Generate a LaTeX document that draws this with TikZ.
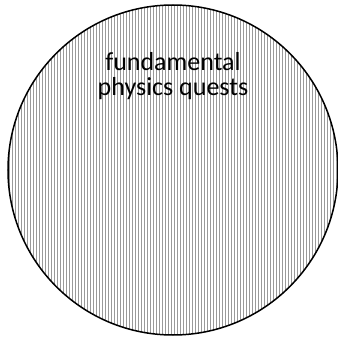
\documentclass[tikz,border=0pt]{standalone}
\usepackage{fontspec}
\setmainfont{Carlito}
\usepackage{tikz}
\usetikzlibrary{positioning, patterns}

\begin{document}
\begin{tikzpicture}[x=1pt, y=1pt,
    quest/.style={circle, draw=black, line width=1.5pt, minimum size=330pt,
                  pattern=vertical lines, pattern color=gray!80},
    label text/.style={align=center, font=\fontsize{26}{25}\selectfont, inner sep=0pt}]
    \useasboundingbox (0,0) rectangle (338,338);
    \node[quest] (domain) at (173,168) {};
    \node[label text, below=48pt of domain.north] (title) {fundamental\\physics quests};
  \end{tikzpicture}
\end{document}
